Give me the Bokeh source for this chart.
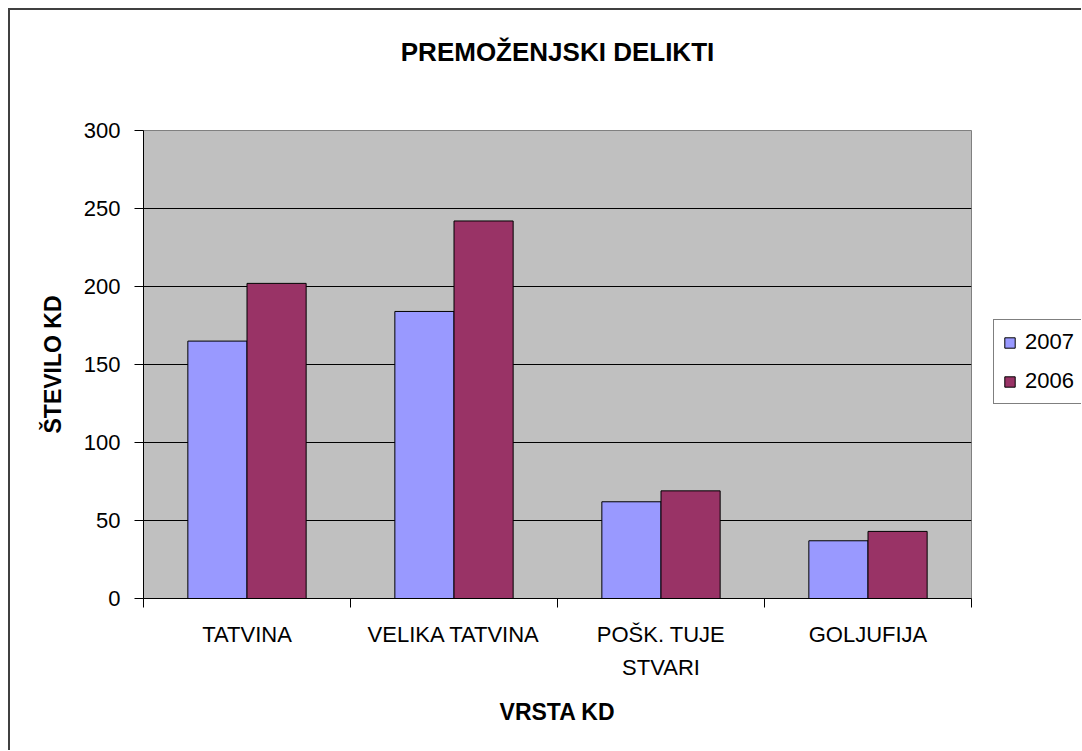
import numpy as np
from bokeh.plotting import figure
from bokeh.layouts import row
from bokeh.models import (ColumnDataSource, Range1d, LinearAxis, Title,
                          FixedTicker, Legend, LegendItem)
from bokeh.embed import file_html
from bokeh.resources import INLINE

# ---- data ----
categories = ["TATVINA", "VELIKA TATVINA", "POŠK. TUJE\nSTVARI", "GOLJUFIJA"]
series_names = ["2007", "2006"]
values_2007 = [165, 184, 62, 37]
values_2006 = [202, 242, 69, 43]
y_ticks = [0, 50, 100, 150, 200, 250, 300]

title_text = "PREMOŽENJSKI DELIKTI"
x_label = "VRSTA KD"
y_label = "ŠTEVILO KD"

FONT = "Liberation Sans"
C2007 = "#9999FF"
C2006 = "#993366"

ncat = len(categories)
centers = np.arange(ncat) + 0.5
bounds = np.arange(ncat + 1)
n = len(series_names)
bw = 1.0 / (n + 1.5)

src = ColumnDataSource(dict(x1=centers - bw / 2, x2=centers + bw / 2,
                            v2007=values_2007, v2006=values_2006))

p = figure(width=971, height=740, output_backend="svg", toolbar_location=None,
           x_range=Range1d(0, ncat),
           y_range=Range1d(y_ticks[0], y_ticks[-1]),
           x_axis_type=None,
           min_border_left=133, min_border_top=120, min_border_right=10, min_border_bottom=152)

p.background_fill_color = "#C0C0C0"
p.border_fill_color = "white"
p.outline_line_color = "#808080"
p.outline_line_width = 1

r1 = p.vbar(x="x1", top="v2007", width=bw, source=src,
            fill_color=C2007, line_color="black", line_width=1)
r2 = p.vbar(x="x2", top="v2006", width=bw, source=src,
            fill_color=C2006, line_color="black", line_width=1)

# y axis
ya = p.yaxis[0]
ya.ticker = FixedTicker(ticks=y_ticks)
ya.major_tick_out = 9
ya.major_tick_in = 0
ya.minor_tick_out = 0
ya.minor_tick_in = 0
ya.axis_line_color = "black"
ya.major_tick_line_color = "black"
ya.major_label_standoff = 14
ya.major_label_text_font = FONT
ya.major_label_text_font_size = "22px"
ya.major_label_text_color = "black"
ya.axis_label = y_label
ya.axis_label_text_font = FONT
ya.axis_label_text_font_size = "23px"
ya.axis_label_text_font_style = "bold"
ya.axis_label_text_color = "black"
ya.axis_label_standoff = 15

p.ygrid.ticker = FixedTicker(ticks=y_ticks[1:-1])
p.ygrid.grid_line_color = "black"
p.ygrid.grid_line_width = 1

# x axis: labels at category centres, ticks on category boundaries
cat_axis = LinearAxis(ticker=FixedTicker(ticks=list(centers), minor_ticks=list(bounds)),
                      major_label_overrides={float(c): lab for c, lab in zip(centers, categories)},
                      major_tick_line_color=None, axis_line_color="black",
                      minor_tick_line_color="black",
                      major_tick_out=9, major_tick_in=0, minor_tick_out=9, minor_tick_in=0,
                      major_label_standoff=14,
                      major_label_text_font=FONT, major_label_text_font_size="22px",
                      major_label_text_color="black",
                      major_label_text_line_height=1.35,
                      axis_label=x_label, axis_label_text_font=FONT,
                      axis_label_text_font_size="23px", axis_label_text_font_style="bold",
                      axis_label_text_color="black", axis_label_standoff=16)
p.add_layout(cat_axis, "below")

# invisible spacer between plot area and title
gap = LinearAxis(ticker=FixedTicker(ticks=[float(centers[0])]), axis_line_color=None,
                 major_tick_line_color=None, minor_tick_line_color=None,
                 major_tick_out=59, major_tick_in=0, minor_tick_out=0, minor_tick_in=0,
                 major_label_standoff=0, major_label_text_color=None,
                 major_label_text_font_size="1px")
p.add_layout(gap, "above")

title = Title(text=title_text, align="center", offset=-5,
              text_font=FONT, text_font_size="26px", text_font_style="bold",
              text_color="black")
p.add_layout(title, "above")

# legend panel to the right of the plot area (its bars lie outside its ranges)
pl = figure(width=100, height=740, output_backend="svg", toolbar_location=None,
            x_range=Range1d(-2, -1), y_range=Range1d(-2, -1),
            x_axis_type=None, y_axis_type=None,
            min_border_left=0, min_border_right=0, min_border_top=0, min_border_bottom=0)
pl.background_fill_color = "white"
pl.border_fill_color = "white"
pl.outline_line_color = None
pl.xgrid.visible = False
pl.ygrid.visible = False
l1 = pl.vbar(x="x1", top="v2007", width=bw, source=src,
             fill_color=C2007, line_color="black", line_width=1)
l2 = pl.vbar(x="x2", top="v2006", width=bw, source=src,
             fill_color=C2006, line_color="black", line_width=1)

legend = Legend(items=[LegendItem(label=series_names[0], renderers=[l1]),
                       LegendItem(label=series_names[1], renderers=[l2])],
                location=(12, 194), orientation="vertical",
                border_line_color="black", border_line_width=1,
                background_fill_color="white", background_fill_alpha=1,
                label_text_font=FONT, label_text_font_size="22px", label_text_color="black",
                glyph_width=13, glyph_height=13, label_standoff=9, spacing=13,
                padding=9, margin=0, label_height=22)
pl.add_layout(legend)

lay = row(p, pl, spacing=0)
lay.margin = (8, 0, 0, 8)
lay.styles = {"border-left": "2px solid #404040", "border-top": "2px solid #404040"}

open("out.html", "w").write(file_html(lay, INLINE))
